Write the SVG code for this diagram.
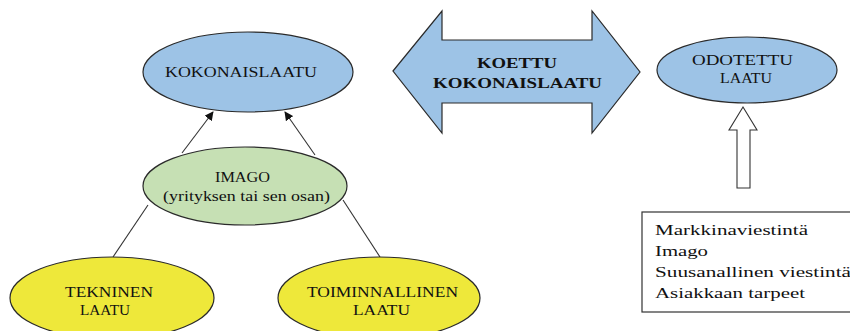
<svg xmlns="http://www.w3.org/2000/svg" width="850" height="331" viewBox="0 0 850 331">
  <defs>
    <marker id="head" viewBox="0 0 10 10" refX="9" refY="5" markerWidth="9" markerHeight="9" markerUnits="userSpaceOnUse" orient="auto">
      <path d="M0,0 L10,5 L0,10 z" fill="#111"/>
    </marker>
  </defs>
  <style>
    .ell { stroke: #2a2a2a; stroke-width: 1.2; }
    .blue { fill: #9dc3e6; }
    .green { fill: #c6e0b4; }
    .yellow { fill: #eee83a; }
    text { font-family: "Liberation Serif", "Times New Roman", serif; font-size: 15px; fill: #111; }
    .b { font-weight: bold; }
    .edge { stroke: #333; stroke-width: 1.1; fill: none; }
  </style>
  <rect width="850" height="331" fill="#fff"/>

  <!-- connectors -->
  <g id="connectors">
    <line class="edge" x1="182" y1="153" x2="213" y2="112" marker-end="url(#head)"/>
    <line class="edge" x1="315" y1="155" x2="285" y2="112" marker-end="url(#head)"/>
    <line class="edge" x1="148" y1="205" x2="113" y2="257"/>
    <line class="edge" x1="343" y1="200" x2="380" y2="257"/>
  </g>

  <g id="kokonaislaatu">
    <ellipse class="ell blue" cx="248" cy="72" rx="105" ry="40"/>
    <text x="165" y="77" textLength="152" lengthAdjust="spacingAndGlyphs">KOKONAISLAATU</text>
  </g>

  <g id="imago">
    <ellipse class="ell green" cx="245" cy="186" rx="102" ry="39"/>
    <text x="215" y="182" textLength="55" lengthAdjust="spacingAndGlyphs">IMAGO</text>
    <text x="163" y="201" textLength="167" lengthAdjust="spacingAndGlyphs">(yrityksen tai sen osan)</text>
  </g>

  <g id="tekninen">
    <ellipse class="ell yellow" cx="112" cy="298" rx="102" ry="41"/>
    <text x="65" y="297" textLength="88" lengthAdjust="spacingAndGlyphs">TEKNINEN</text>
    <text x="80" y="315" textLength="50" lengthAdjust="spacingAndGlyphs">LAATU</text>
  </g>

  <g id="toiminnallinen">
    <ellipse class="ell yellow" cx="379" cy="298" rx="101" ry="41"/>
    <text x="307" y="297" textLength="151" lengthAdjust="spacingAndGlyphs">TOIMINNALLINEN</text>
    <text x="353" y="315" textLength="57" lengthAdjust="spacingAndGlyphs">LAATU</text>
  </g>

  <g id="koettu">
    <path class="ell blue" d="M393,71 L442,11 L442,40 L592,40 L592,11 L640,72 L592,133 L592,103 L442,103 L442,133 Z"/>
    <text class="b" x="477" y="68" textLength="80" lengthAdjust="spacingAndGlyphs">KOETTU</text>
    <text class="b" x="433" y="88" textLength="169" lengthAdjust="spacingAndGlyphs">KOKONAISLAATU</text>
  </g>

  <g id="odotettu">
    <ellipse class="ell blue" cx="747" cy="70" rx="90" ry="33"/>
    <text x="692" y="65" textLength="101" lengthAdjust="spacingAndGlyphs">ODOTETTU</text>
    <text x="720" y="83" textLength="52" lengthAdjust="spacingAndGlyphs">LAATU</text>
  </g>

  <g id="input-arrow">
    <path d="M743,107 L757,130 L750,130 L750,188 L737,188 L737,130 L729,130 Z" fill="#fff" stroke="#333" stroke-width="1.1"/>
  </g>

  <g id="factors">
    <rect x="642" y="212" width="220" height="100" fill="#fff" stroke="#333" stroke-width="1.2"/>
    <text x="655" y="235" textLength="153" lengthAdjust="spacingAndGlyphs">Markkinaviestintä</text>
    <text x="655" y="256" textLength="53" lengthAdjust="spacingAndGlyphs">Imago</text>
    <text x="655" y="277" textLength="196" lengthAdjust="spacingAndGlyphs">Suusanallinen viestintä</text>
    <text x="655" y="298" textLength="150" lengthAdjust="spacingAndGlyphs">Asiakkaan tarpeet</text>
  </g>
</svg>
